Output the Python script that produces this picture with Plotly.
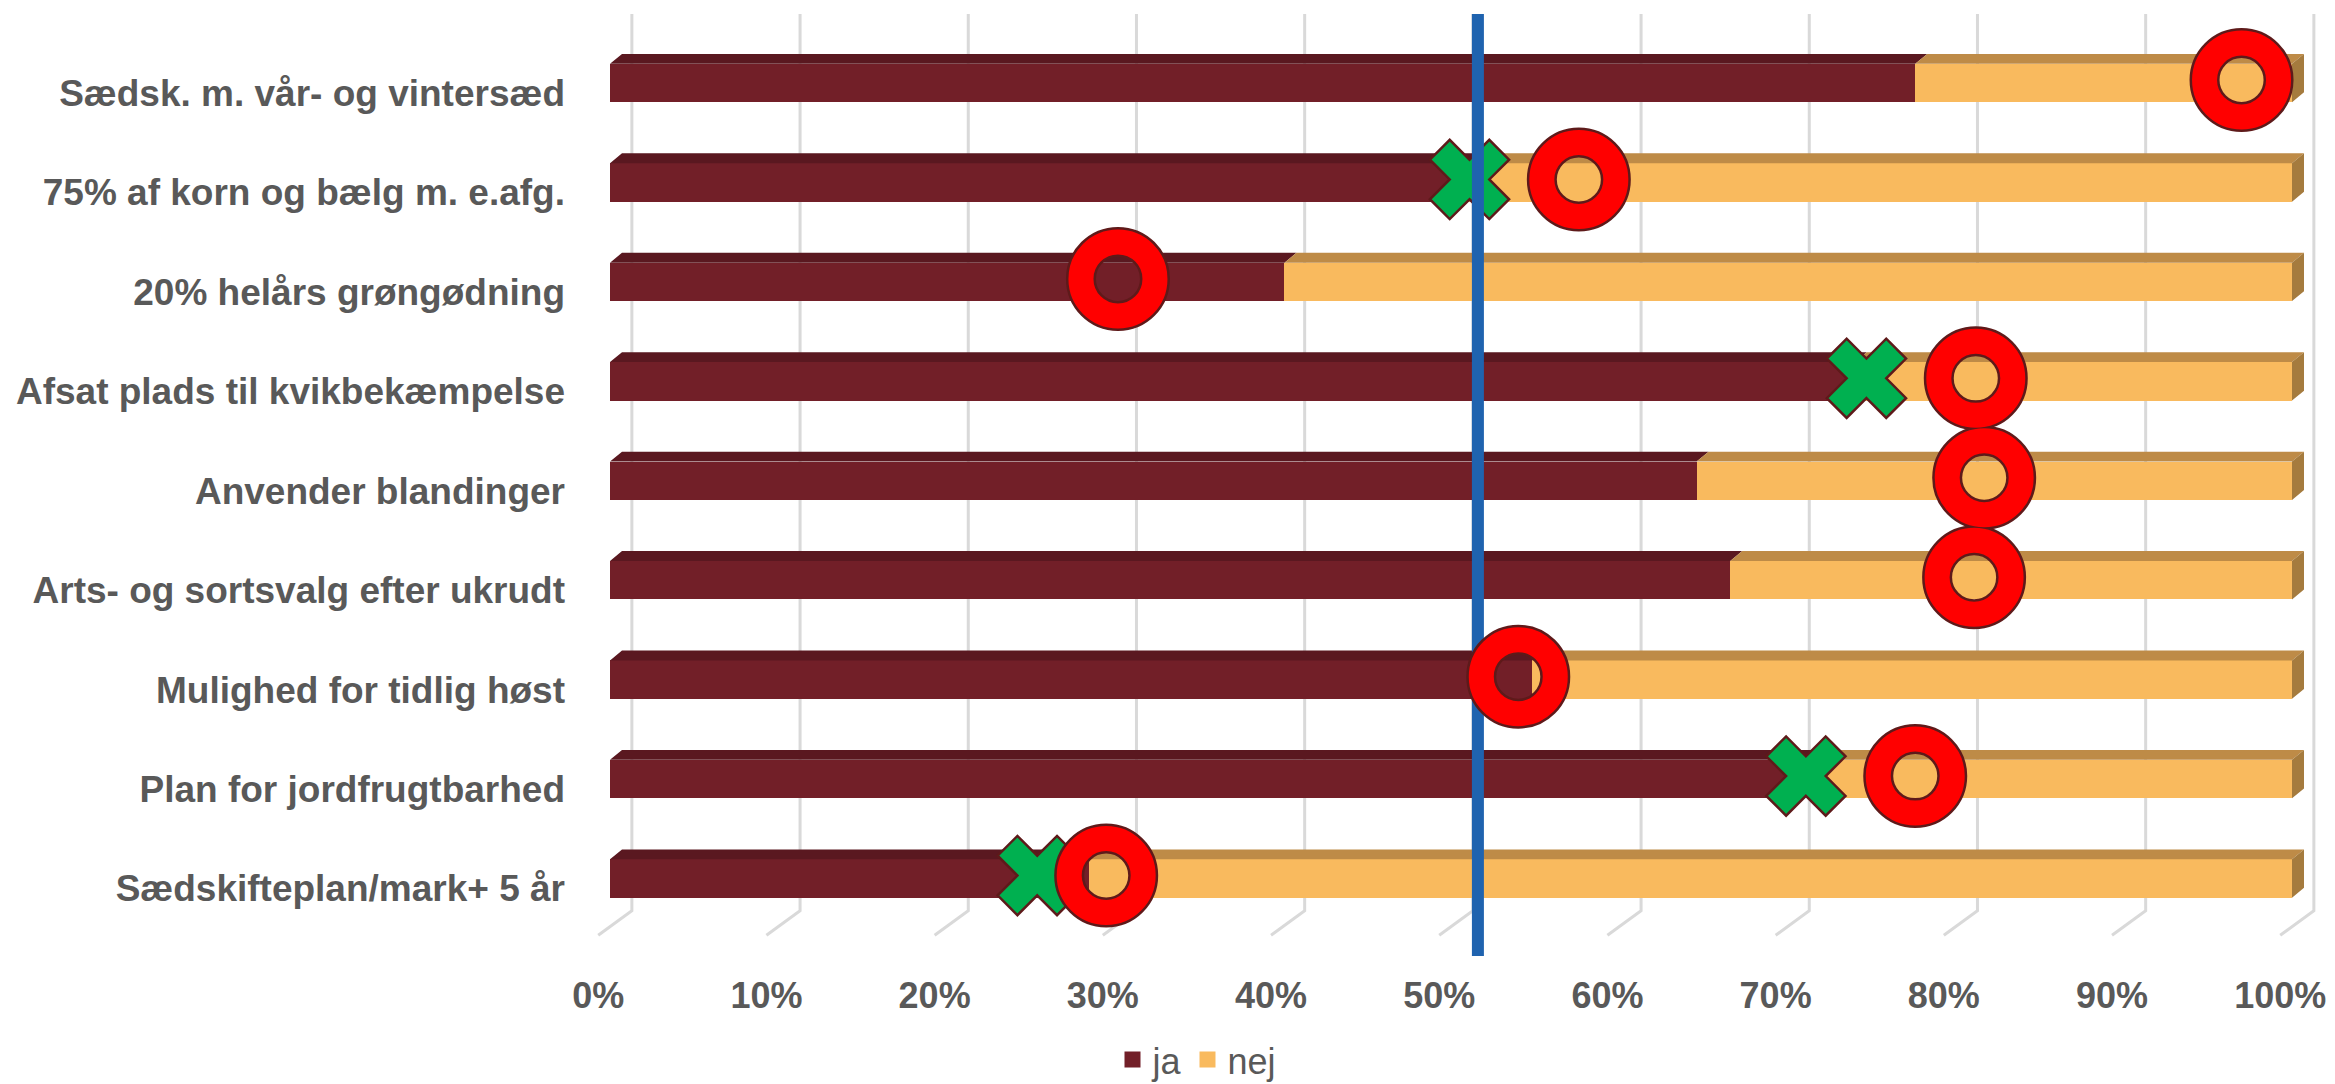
import plotly.graph_objects as go

# ---------------- data ----------------
categories = [
    "Sædsk. m. vår- og vintersæd",
    "75% af korn og bælg m. e.afg.",
    "20% helårs grøngødning",
    "Afsat plads til kvikbekæmpelse",
    "Anvender blandinger",
    "Arts- og sortsvalg efter ukrudt",
    "Mulighed for tidlig høst",
    "Plan for jordfrugtbarhed",
    "Sædskifteplan/mark+ 5 år",
]
ja = [77.6, 51.0, 40.1, 74.0, 64.6, 66.6, 54.8, 70.8, 28.5]
nej = [22.4, 49.0, 59.9, 26.0, 35.4, 33.4, 45.2, 29.2, 71.5]
o_values = [97.0, 57.6, 30.2, 81.2, 81.7, 81.1, 54.0, 77.6, 29.5]
x_values = [None, 51.1, None, 74.7, None, None, None, 71.1, 25.4]
reference_line = 51.6
tick_values = [0, 10, 20, 30, 40, 50, 60, 70, 80, 90, 100]
tick_labels = ["0%", "10%", "20%", "30%", "40%", "50%", "60%", "70%", "80%", "90%", "100%"]

# ---------------- layout / style constants (page pixels) ----------------
W, H = 2335, 1084
OFF = 8                 # default body margin of the page
PLOT_L, PLOT_R, PLOT_T, PLOT_B = 580, 2325, 10, 972
PX_PER_PCT = 16.82      # px per percent on the front plane
X0_PX = 610             # px of 0% on the front plane
ROW_PX = 100.8          # px between categories
ROW0_PX = 84            # px of first category centre

ML = PLOT_L - OFF
MT = PLOT_T - OFF
MR = W - (PLOT_R - OFF)
MB = H - (PLOT_B - OFF)
plot_w = PLOT_R - PLOT_L
plot_h = PLOT_B - PLOT_T
x_range = [(PLOT_L - X0_PX) / PX_PER_PCT, (PLOT_R - X0_PX) / PX_PER_PCT]
y_min = (PLOT_T - ROW0_PX) / ROW_PX
y_max = (PLOT_B - ROW0_PX) / ROW_PX


def py(px):
    return (px - ROW0_PX) / ROW_PX


LABEL_SHIFT = 0.7        # tick labels sit on the front floor
BACK_SHIFT = 1.3         # gridlines sit on the back wall
DX = 12 / PX_PER_PCT     # bar depth (x)
DY = 10 / ROW_PX         # bar depth (y)
BW = 39 / ROW_PX         # bar thickness

C_JA, C_JA_TOP = "#721F28", "#5A1820"
C_NEJ, C_NEJ_TOP, C_NEJ_SIDE = "#F9BA5E", "#BE8B47", "#A57B3E"
C_TEXT = "#595959"
C_GRID = "#D9D9D9"
C_OUT = "#5E1A1A"
FONT = "Liberation Sans, Arial, sans-serif"

pos = list(range(len(categories)))


def poly_trace(polys, color):
    xs, ys = [], []
    for pts in polys:
        for a, b in pts:
            xs.append(a)
            ys.append(b)
        xs.append(pts[0][0])
        ys.append(pts[0][1])
        xs.append(None)
        ys.append(None)
    return go.Scatter(x=xs, y=ys, mode="lines", fill="toself", fillcolor=color,
                      line=dict(width=0, color=color), hoverinfo="skip",
                      showlegend=False)


fig = go.Figure()

fig.add_trace(go.Bar(y=pos, x=ja, orientation="h", width=BW, name="ja",
                     legendgroup="ja", showlegend=False,
                     marker=dict(color=C_JA, line=dict(width=0))))
fig.add_trace(go.Bar(y=pos, x=nej, orientation="h", width=BW, name="nej",
                     legendgroup="nej", showlegend=False,
                     marker=dict(color=C_NEJ, line=dict(width=0))))

ja_top, nej_top, nej_side = [], [], []
for p, a, b in zip(pos, ja, nej):
    yt = p - BW / 2
    yb = p + BW / 2
    end = a + b
    ja_top.append([(0, yt), (DX, yt - DY), (a + DX, yt - DY), (a, yt)])
    nej_top.append([(a, yt), (a + DX, yt - DY), (end + DX, yt - DY), (end, yt)])
    nej_side.append([(end, yt), (end + DX, yt - DY), (end + DX, yb - DY), (end, yb)])

fig.add_trace(poly_trace(ja_top, C_JA_TOP))
fig.add_trace(poly_trace(nej_top, C_NEJ_TOP))
fig.add_trace(poly_trace(nej_side, C_NEJ_SIDE))

MARK_DY = -0.03
fig.add_trace(go.Scatter(x=x_values, y=[p + MARK_DY for p in pos], mode="markers",
                         marker=dict(symbol="x", size=70, color="#00B050",
                                     line=dict(width=2.5, color=C_OUT)),
                         hoverinfo="x", showlegend=False))

fig.add_trace(go.Scatter(x=[reference_line, reference_line], y=[py(14), py(969)],
                         mode="lines", line=dict(color="#1F63AF", width=12),
                         hoverinfo="x", showlegend=False))

fig.add_trace(go.Scatter(x=o_values, y=[p + MARK_DY for p in pos], mode="markers",
                         marker=dict(symbol="circle-open", size=74, color=C_OUT,
                                     line=dict(width=30)),
                         hoverinfo="skip", showlegend=False))
fig.add_trace(go.Scatter(x=o_values, y=[p + MARK_DY for p in pos], mode="markers",
                         marker=dict(symbol="circle-open", size=74, color="#FF0000",
                                     line=dict(width=25)),
                         hoverinfo="x", showlegend=False))

# legend entries (square swatches)
fig.add_trace(go.Scatter(x=[None], y=[None], mode="markers", name="ja", legendgroup="ja",
                         marker=dict(symbol="square", size=18, color=C_JA)))
fig.add_trace(go.Scatter(x=[None], y=[None], mode="markers", name="nej", legendgroup="nej",
                         marker=dict(symbol="square", size=18, color=C_NEJ)))

# invisible trace for the label axis
fig.add_trace(go.Scatter(x=[0], y=[0], xaxis="x2", mode="markers",
                         marker=dict(opacity=0), hoverinfo="skip", showlegend=False))

# gridlines on back wall + floor
shapes = []
for t in tick_values:
    shapes.append(dict(type="path", xref="x", yref="y", layer="below",
                       path="M{},{} L{},{} L{},{}".format(
                           t + BACK_SHIFT, py(14), t + BACK_SHIFT, py(923),
                           t - LABEL_SHIFT, py(948)),
                       line=dict(color=C_GRID, width=3)))

LEG_X, LEG_Y = 1197, 1074   # page px of legend centre (tuned)
fig.update_layout(
    width=W, height=H,
    margin=dict(l=ML, r=MR, t=MT, b=MB, pad=0),
    paper_bgcolor="white", plot_bgcolor="white",
    barmode="stack", bargap=0,
    shapes=shapes,
    showlegend=True,
    legend=dict(orientation="h", x=(LEG_X - PLOT_L) / plot_w, xanchor="center",
                y=(PLOT_B - LEG_Y) / plot_h, yanchor="middle",
                font=dict(family=FONT, size=36, color=C_TEXT),
                traceorder="normal", bgcolor="rgba(0,0,0,0)", itemwidth=30),
    xaxis=dict(range=x_range, showgrid=False, zeroline=False, showline=False,
               showticklabels=False, ticks=""),
    xaxis2=dict(range=[x_range[0] + LABEL_SHIFT, x_range[1] + LABEL_SHIFT],
                overlaying="x", side="bottom", showgrid=False, zeroline=False,
                showline=False, ticks="", tickvals=tick_values, ticktext=tick_labels,
                ticklabelstandoff=12,
                tickfont=dict(family=FONT, size=36, color=C_TEXT, weight="bold")),
    yaxis=dict(range=[y_max, y_min], showgrid=False, zeroline=False, showline=False,
               ticks="", tickvals=[p + 0.1 for p in pos], ticktext=categories,
               ticklabelstandoff=14,
               tickfont=dict(family=FONT, size=37, color=C_TEXT, weight="bold")),
    hovermode="closest",
)

fig.write_html("out.html")
